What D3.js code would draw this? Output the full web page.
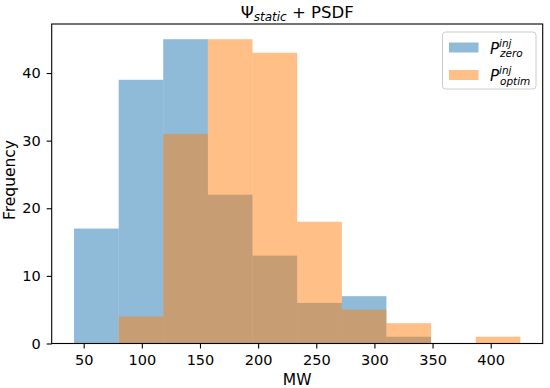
<!DOCTYPE html>
<html><head><meta charset="utf-8">
<script src="https://cdn.jsdelivr.net/npm/d3@7"></script>
<style>body{margin:0;background:#fff}svg{display:block;font-family:"DejaVu Sans",sans-serif}</style>
</head><body><svg id="c" width="550" height="388"></svg>
<script>
const binEdges = [41.7, 80.1, 118.4, 156.8, 195.2, 233.6, 272.0, 310.3, 348.7, 387.1, 425.5];
const zeroCounts = [17, 39, 45, 22, 13, 6, 7, 1, 0, 0];
const optimCounts = [0, 4, 31, 45, 43, 18, 5, 3, 0, 1];
const xTicks = [50, 100, 150, 200, 250, 300, 350, 400];
const yTicks = [0, 10, 20, 30, 40];
const seriesColors = ["#1f77b4", "#ff7f0e"];

const svg = d3.select("#c");
const L = 51.7, R = 542.7, T = 24, B = 343.5;
const x = d3.scaleLinear().domain([22.5, 444.7]).range([L, R]);
const y = d3.scaleLinear().domain([0, 47.25]).range([B, T]);

function bars(counts, color) {
  const data = counts.map((c, i) => ({x0: binEdges[i], x1: binEdges[i+1], c}));
  svg.append("g").selectAll("rect").data(data.filter(d => d.c > 0)).join("rect")
    .attr("x", d => x(d.x0)).attr("width", d => x(d.x1) - x(d.x0))
    .attr("y", d => y(d.c)).attr("height", d => y(0) - y(d.c))
    .attr("fill", color).attr("fill-opacity", 0.5);
}
bars(zeroCounts, seriesColors[0]);
bars(optimCounts, seriesColors[1]);

const xa = svg.append("g").attr("transform", `translate(0,${B})`)
  .call(d3.axisBottom(x).tickValues(xTicks).tickSize(5).tickPadding(6).tickFormat(d3.format("d")));
const ya = svg.append("g").attr("transform", `translate(${L},0)`)
  .call(d3.axisLeft(y).tickValues(yTicks).tickSize(5).tickPadding(6).tickFormat(d3.format("d")));
[xa, ya].forEach(a => {
  a.select(".domain").remove();
  a.selectAll("text").attr("font-size", 14.5).attr("fill", "#000").attr("font-family", "DejaVu Sans");
  a.selectAll("line").attr("stroke", "#000").attr("stroke-width", 1.1);
});
svg.append("rect").attr("x", L).attr("y", T).attr("width", R - L).attr("height", B - T)
  .attr("fill", "none").attr("stroke", "#000").attr("stroke-width", 1.1);

// title
const t = svg.append("text").attr("x", (L + R) / 2).attr("y", 17.5).attr("text-anchor", "middle")
  .attr("font-size", 16.5);
t.append("tspan").text("Ψ");
t.append("tspan").attr("font-style", "italic").attr("font-size", 12).attr("dy", 3).text("static");
t.append("tspan").attr("dy", -3).text(" + PSDF");

// axis labels
svg.append("text").attr("x", (L + R) / 2).attr("y", 384.5).attr("text-anchor", "middle")
  .attr("font-size", 15.5).text("MW");
svg.append("text").attr("transform", `translate(14.5,180) rotate(-90)`)
  .attr("text-anchor", "middle").attr("font-size", 15.5).text("Frequency");

// legend
const lg = svg.append("g");
lg.append("rect").attr("x", 442.5).attr("y", 32).attr("width", 93.5).attr("height", 57).attr("rx", 3)
  .attr("fill", "#fff").attr("fill-opacity", 0.8).attr("stroke", "#ccc").attr("stroke-width", 1);
const labels = [["inj", "zero"], ["inj", "optim"]];
labels.forEach((lab, i) => {
  const yy = 42.5 + i * 27.5;
  lg.append("rect").attr("x", 449).attr("y", yy).attr("width", 29.5).attr("height", 10)
    .attr("fill", seriesColors[i]).attr("fill-opacity", 0.5);
  const tx = lg.append("text").attr("x", 490).attr("y", yy + 11).attr("font-size", 15).attr("font-style", "italic");
  tx.append("tspan").text("P");
  tx.append("tspan").attr("font-size", 10.5).attr("dy", -7).text(lab[0]);
  tx.append("tspan").attr("font-size", 10.5).attr("x", 500).attr("dy", 10.5).text(lab[1]);
});
</script></body></html>
